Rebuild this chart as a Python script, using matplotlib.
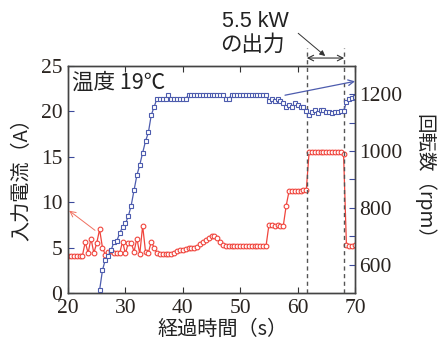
import matplotlib
matplotlib.use("Agg")
import matplotlib.pyplot as plt

# sample times (s), 0.5 s step
time_s = [
    20.0, 20.5, 21.0, 21.5, 22.0, 22.5, 23.0, 23.5, 24.0, 24.5,
    25.0, 25.5, 26.0, 26.5, 27.0, 27.5, 28.0, 28.5, 29.0, 29.5,
    30.0, 30.5, 31.0, 31.5, 32.0, 32.5, 33.0, 33.5, 34.0, 34.5,
    35.0, 35.5, 36.0, 36.5, 37.0, 37.5, 38.0, 38.5, 39.0, 39.5,
    40.0, 40.5, 41.0, 41.5, 42.0, 42.5, 43.0, 43.5, 44.0, 44.5,
    45.0, 45.5, 46.0, 46.5, 47.0, 47.5, 48.0, 48.5, 49.0, 49.5,
    50.0, 50.5, 51.0, 51.5, 52.0, 52.5, 53.0, 53.5, 54.0, 54.5,
    55.0, 55.5, 56.0, 56.5, 57.0, 57.5, 58.0, 58.5, 59.0, 59.5,
    60.0, 60.5, 61.0, 61.5, 62.0, 62.5, 63.0, 63.5, 64.0, 64.5,
    65.0, 65.5, 66.0, 66.5, 67.0, 67.5, 68.0, 68.5, 69.0, 69.5,
    70.0,
]

# input current (A)
current_a = [
    4.1, 4.1, 4.1, 4.1, 4.1, 4.1, 5.6, 4.4, 6.0, 4.4,
    5.5, 7.0, 5.0, 4.2, 4.55, 4.6, 4.4, 4.4, 4.4, 5.65,
    4.35, 5.5, 5.55, 4.55, 6.0, 4.3, 7.4, 4.55, 4.45, 5.65,
    5.0, 4.4, 4.3, 4.3, 4.3, 4.3, 4.3, 4.4, 4.6, 4.7,
    4.75, 4.8, 4.9, 4.95, 5.0, 5.1, 5.35, 5.6, 5.85, 6.05,
    6.3, 6.3, 6.1, 5.6, 5.3, 5.2, 5.2, 5.2, 5.2, 5.2,
    5.2, 5.2, 5.2, 5.2, 5.2, 5.2, 5.2, 5.2, 5.2, 5.2,
    7.5, 7.5, 7.4, 7.45, 7.4, 7.4, 9.6, 11.2, 11.25, 11.25,
    11.25, 11.25, 11.3, 11.3, 15.5, 15.5, 15.5, 15.5, 15.5, 15.5,
    15.5, 15.5, 15.5, 15.5, 15.5, 15.5, 15.3, 5.3, 5.2, 5.2,
    5.25,
]

# rotation speed (rpm), logged from 25.5 s on
speed_rpm = [
    510, 580, 618, 632, 650, 680, 684, 710, 733, 745,
    770, 808, 862, 915, 952, 994, 1035, 1066, 1127, 1156,
    1185, 1185, 1185, 1185, 1198, 1185, 1185, 1185, 1185, 1185,
    1185, 1198, 1198, 1198, 1198, 1198, 1198, 1198, 1198, 1198,
    1198, 1198, 1198, 1198, 1185, 1185, 1198, 1198, 1198, 1198,
    1198, 1198, 1198, 1198, 1198, 1198, 1198, 1198, 1198, 1177,
    1185, 1177, 1185, 1177, 1168, 1156, 1162, 1156, 1168, 1162,
    1156, 1156, 1142, 1127, 1138, 1144, 1133, 1144, 1146, 1138,
    1138, 1133, 1138, 1138, 1140, 1140, 1174, 1185, 1186, 1191,
]
speed_time = time_s[len(time_s) - len(speed_rpm):]

# 5.5 kW output window
window_s = [61.6, 68.1]

red = "#f0443c"
blue = "#4d5cae"
tick_col = "#3c4a9c"
jp = ["Noto Sans CJK JP", "DejaVu Sans"]
serif = "Liberation Serif"

fig = plt.figure(figsize=(4.38, 3.41), dpi=100)
ax = fig.add_axes([0.1553, 0.1408, 0.6553, 0.6657])
ax2 = ax.twinx()

ax.plot(time_s, current_a, color=red, lw=0.9, marker="o", ms=3.4,
        mfc="white", mec=red, mew=0.8)
ax2.plot(speed_time, speed_rpm, color=blue, lw=0.9, marker="s", ms=3.2,
         mfc="white", mec=blue, mew=0.8)

ax.set_xlim(20, 70)
ax.set_ylim(0, 25)
ax2.set_ylim(500, 1300)
ax.set_xticks([20, 30, 40, 50, 60, 70])
ax.set_yticks([0, 5, 10, 15, 20, 25])
ax2.set_yticks([600, 800, 1000, 1200])
ax2.set_yticks([700, 900, 1100], minor=True)

ax.tick_params(axis="x", direction="in", top=True, length=4, width=0.8,
               pad=4, labelsize=15.5, color="#333333")
ax.tick_params(axis="y", direction="in", length=4, width=0.8, pad=4,
               labelsize=15.5, color=tick_col, right=False)
ax2.tick_params(axis="y", which="both", direction="in", length=4, width=0.8,
                pad=3, labelsize=15.5, color=tick_col)
for lab in ax.get_xticklabels() + ax.get_yticklabels() + ax2.get_yticklabels():
    lab.set_fontfamily(serif)
    lab.set_color("#2a2420")

for a in (ax, ax2):
    for sp in a.spines.values():
        sp.set_color("#444444")
        sp.set_linewidth(1.0)

# dashed lines marking the output window
for xv in window_s:
    ax.axvline(xv, ymin=0, ymax=1.079, color="#555555", lw=1.0,
               ls=(0, (3, 2.5)), clip_on=False, zorder=5)

ax.annotate("", xy=(window_s[0], 1.035), xytext=(window_s[1], 1.035),
            xycoords=("data", "axes fraction"),
            textcoords=("data", "axes fraction"),
            arrowprops=dict(arrowstyle="<->", color="#333333", lw=0.8,
                            shrinkA=0, shrinkB=0), annotation_clip=False)
ax.annotate("", xy=(64.8, 1.044), xytext=(60.1, 1.144),
            xycoords=("data", "axes fraction"),
            textcoords=("data", "axes fraction"),
            arrowprops=dict(arrowstyle="-|>", color="#333333", lw=0.7,
                            mutation_scale=8, shrinkA=0, shrinkB=0),
            annotation_clip=False)
ax.text(46.8, 1.194, "5.5 kW", transform=ax.get_xaxis_transform(),
        fontsize=15.5, family="Liberation Sans", ha="left", va="center",
        color="#222222")
ax.text(46.5, 1.093, "の出力", transform=ax.get_xaxis_transform(),
        fontsize=15.5, family=jp, ha="left", va="center", color="#222222")

# arrows tying each curve to its axis
ax.annotate("", xy=(20.2, 9.06), xytext=(24.7, 6.9),
            arrowprops=dict(arrowstyle="->", color="#f07060", lw=0.7,
                            shrinkA=0, shrinkB=0), annotation_clip=False)
ax2.annotate("", xy=(70.0, 1246), xytext=(57.8, 1197),
             arrowprops=dict(arrowstyle="->", color=blue, lw=0.9,
                             shrinkA=0, shrinkB=0), annotation_clip=False)

ax.text(0.014, 0.925, "温度 19℃", transform=ax.transAxes, fontsize=15.5,
        family=jp, ha="left", va="center", color="#222222")

fig.text(0.050, 0.487, "入力電流（A）", rotation=90, fontsize=14.5,
         family=jp, ha="center", va="center", color="#222222")
fig.text(0.968, 0.469, "回転数（rpm）", rotation=270, fontsize=14,
         family=jp, ha="center", va="center", color="#222222")
fig.text(0.507, 0.035, "経過時間（s）", fontsize=14.5, family=jp,
         ha="center", va="center", color="#222222")

fig.savefig("out.png", dpi=100)
